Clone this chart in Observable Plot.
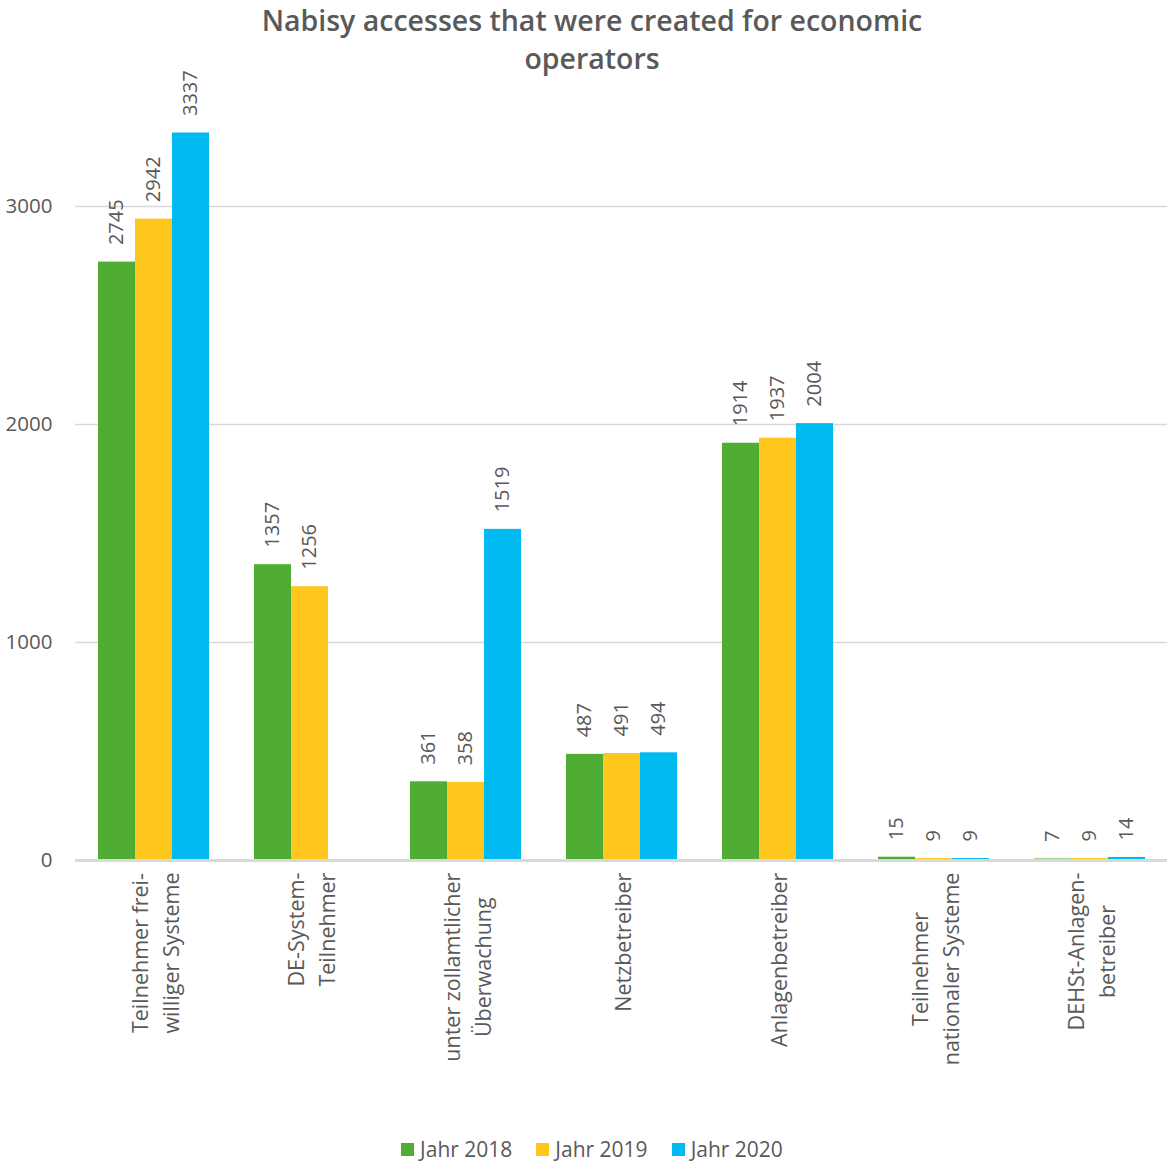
<!DOCTYPE html>
<html><head><meta charset="utf-8">
<script src="https://cdn.jsdelivr.net/npm/d3@7"></script>
<script src="https://cdn.jsdelivr.net/npm/@observablehq/plot@0.6"></script>
<style>
body{margin:0;background:#fff;font-family:"Open Sans",sans-serif;width:1168px;height:1163px;overflow:hidden;}
#title{height:68px;text-align:center;color:#595959;font-family:"Open Sans",sans-serif;font-weight:600;font-size:28.5px;line-height:38px;padding-top:1px;padding-left:16px;box-sizing:border-box;}
#chart svg{display:block;}
#legend{display:flex;justify-content:center;align-items:center;height:33px;padding-top:5px;box-sizing:border-box;padding-left:16px;color:#595959;font-size:21px;line-height:26px;}
.item{display:flex;align-items:center;margin:0 12px;}
.sw{width:13px;height:13px;margin-right:6px;}
</style></head><body>
<div id="title">Nabisy accesses that were created for economic<br>operators</div>
<div id="chart"></div>
<div id="legend"></div>
<script>
const categories = ["Teilnehmer frei-\nwilliger Systeme","DE-System-\nTeilnehmer","unter zollamtlicher\nÜberwachung","Netzbetreiber","Anlagenbetreiber","Teilnehmer\nnationaler Systeme","DEHSt-Anlagen-\nbetreiber"];
const years = ["Jahr 2018","Jahr 2019","Jahr 2020"];
const values2018 = [2745,1357,361,487,1914,15,7];
const values2019 = [2942,1256,358,491,1937,9,9];
const values2020 = [3337,null,1519,494,2004,9,14];
const colors = ["#4FAD33","#FFC61E","#00B9F1"];
const yTicks = [0,1000,2000,3000];

const series = [values2018, values2019, values2020];
const data = [];
categories.forEach((c,i)=>years.forEach((y,j)=>{
  const v = series[j][i];
  if (v != null) data.push({category:c, year:y, value:v});
}));

const chart = Plot.plot({
  width:1168, height:1062,
  marginTop:29, marginBottom:270, marginLeft:75, marginRight:1,
  style:{fontFamily:'"Open Sans", sans-serif', color:"#595959", background:"#fff", overflow:"visible"},
  fx:{domain:categories, paddingInner:0.282, paddingOuter:0.141, label:null},
  x:{domain:years, padding:0, axis:null},
  y:{domain:[0,3500], axis:null},
  color:{domain:years, range:colors},
  marks:[
    Plot.ruleY(yTicks.filter(d=>d>0), {stroke:"#d9d9d9", strokeWidth:1.5, insetLeft:-22, insetRight:-22}),
    Plot.barY(data, {fx:"category", x:"year", y:"value", fill:"year"}),
    Plot.ruleY([0], {stroke:"#d9d9d9", strokeWidth:3, insetLeft:-22, insetRight:-22}),
    Plot.text(data, {fx:"category", x:"year", y:"value", text:d=>String(d.value), rotate:-90, textAnchor:"start", dy:-17, fontSize:20, fill:"#595959"}),
    Plot.axisY(yTicks, {tickSize:0, tickPadding:45, fontSize:20.5, fill:"#595959", label:null, tickFormat:d=>String(d)}),
    Plot.axisFx({anchor:"bottom", tickSize:0, tickPadding:12, tickRotate:-90, textAnchor:"end", fontSize:21.5, lineHeight:1.45, fill:"#595959", label:null})
  ]
});
document.getElementById("chart").appendChild(chart);

// center multi-line category labels like the reference
chart.querySelectorAll('g[aria-label="fx-axis tick label"] text').forEach(t=>{
  const L = t.getBBox().width;
  t.setAttribute("text-anchor","middle");
  t.setAttribute("transform",(t.getAttribute("transform")||"")+` translate(${-L/2},0)`);
});

const legend = document.getElementById("legend");
years.forEach((y,i)=>{
  const it = document.createElement("div"); it.className="item";
  const sw = document.createElement("div"); sw.className="sw"; sw.style.background=colors[i];
  const tx = document.createElement("span"); tx.textContent=y;
  it.appendChild(sw); it.appendChild(tx); legend.appendChild(it);
});
</script>
</body></html>
